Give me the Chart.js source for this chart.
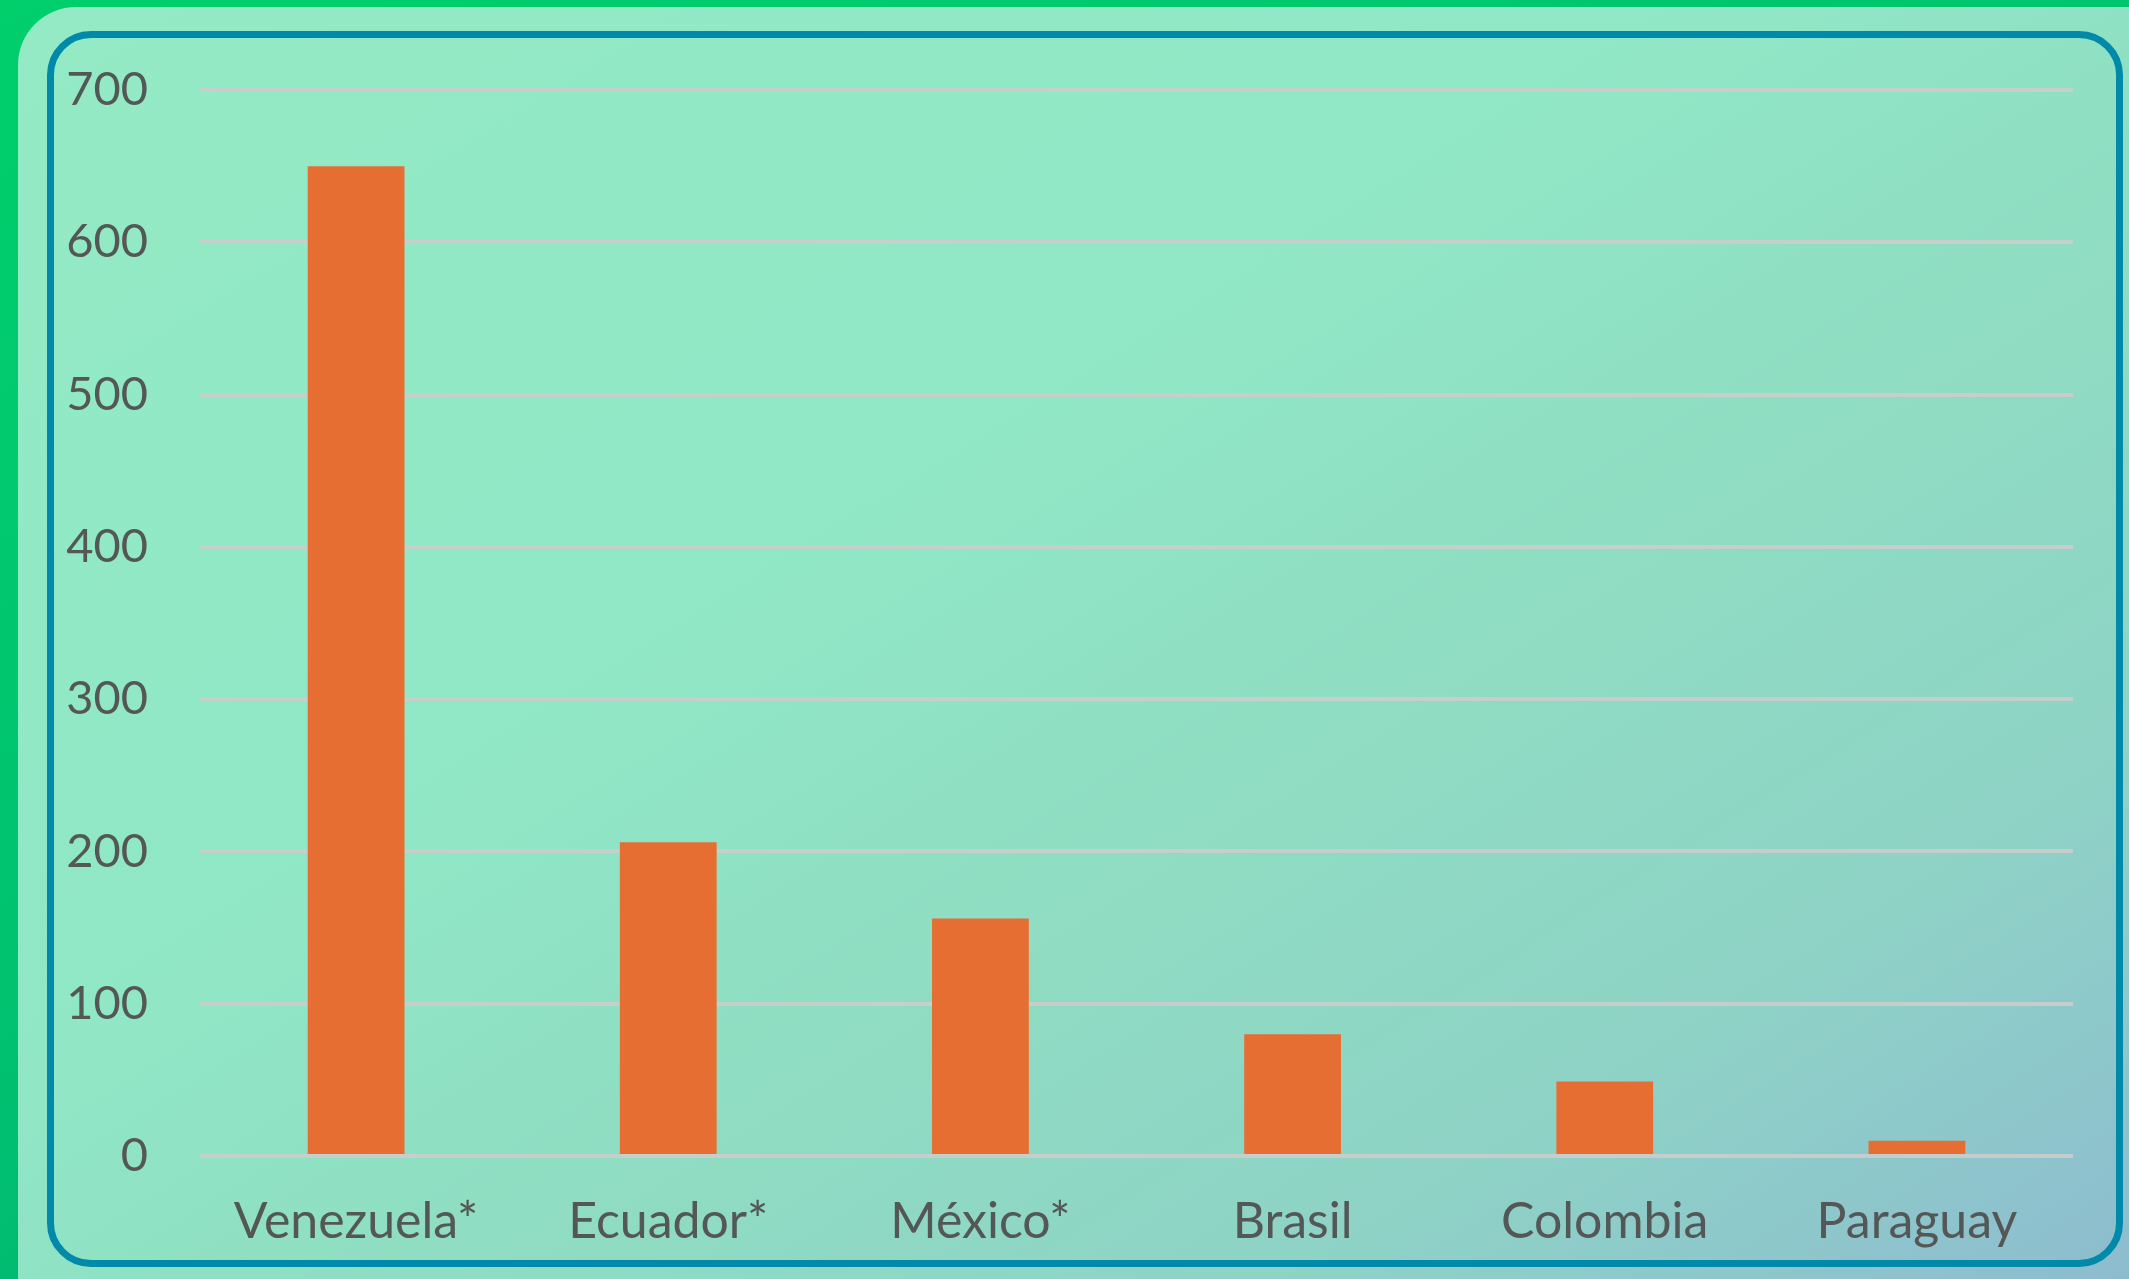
<!DOCTYPE html>
<html>
<head>
<meta charset="utf-8">
<script src="https://cdn.jsdelivr.net/npm/chart.js@4.4.0/dist/chart.umd.min.js"></script>
<style>
    html, body { margin: 0; padding: 0; }
    body {
        width: 2129px; height: 1279px; overflow: hidden; position: relative;
        background: linear-gradient(160deg, #00cf6c 0%, #00c270 50%, #00a878 100%);
    }
    #panel {
        position: absolute; left: 18px; top: 7px; width: 2140px; height: 1300px;
        border-top-left-radius: 58px; border-top-right-radius: 14px;
        background: linear-gradient(148deg, #93eac4 0%, #90e7c6 40%, #8fdcc2 60%, #8ed3c6 78%, #8dbad0 100%);
    }
    #frame {
        position: absolute; left: 47px; top: 31px; width: 2062px; height: 1222px;
        border: 7px solid #0089a9; border-radius: 44px;
    }
    #wrap { position: absolute; left: 0; top: 0; width: 2129px; height: 1279px; }
</style>
</head>
<body>
<div id="panel"></div>
<div id="frame"></div>
<div id="wrap"><canvas id="barChart"></canvas></div>
<script>
// data
const countries = ['Venezuela*', 'Ecuador*', 'México*', 'Brasil', 'Colombia', 'Paraguay'];
const values = [650, 206, 156, 80, 49, 10];
const yTicks = [0, 100, 200, 300, 400, 500, 600, 700];

const textColor = '#535756';

document.addEventListener('DOMContentLoaded', function() {
    const ctx = document.getElementById('barChart').getContext('2d');
    new Chart(ctx, {
        type: 'bar',
        data: {
            labels: countries,
            datasets: [{
                data: values,
                backgroundColor: '#e66e33',
                borderWidth: 0,
                barPercentage: 1,
                categoryPercentage: 0.31
            }]
        },
        options: {
            responsive: true,
            maintainAspectRatio: false,
            animation: false,
            layout: {
                padding: { left: 0, right: 56, top: 90, bottom: 0 }
            },
            plugins: {
                legend: { display: false },
                tooltip: { enabled: false }
            },
            scales: {
                x: {
                    grid: { display: false },
                    border: { display: false },
                    ticks: {
                        color: textColor,
                        padding: 28,
                        font: { family: 'Lato', size: 50 }
                    },
                    afterFit: function(scale) { scale.height = 123; }
                },
                y: {
                    min: 0,
                    max: 700,
                    afterBuildTicks: function(scale) {
                        scale.ticks = yTicks.map(v => ({ value: v }));
                    },
                    grid: {
                        color: 'rgba(200, 205, 203, 0.95)',
                        lineWidth: 4,
                        drawTicks: false
                    },
                    border: { display: false },
                    ticks: {
                        color: textColor,
                        padding: 52,
                        font: { family: 'Lato', size: 47 }
                    },
                    afterFit: function(scale) { scale.width = 200; }
                }
            }
        }
    });
});
</script>
</body>
</html>
